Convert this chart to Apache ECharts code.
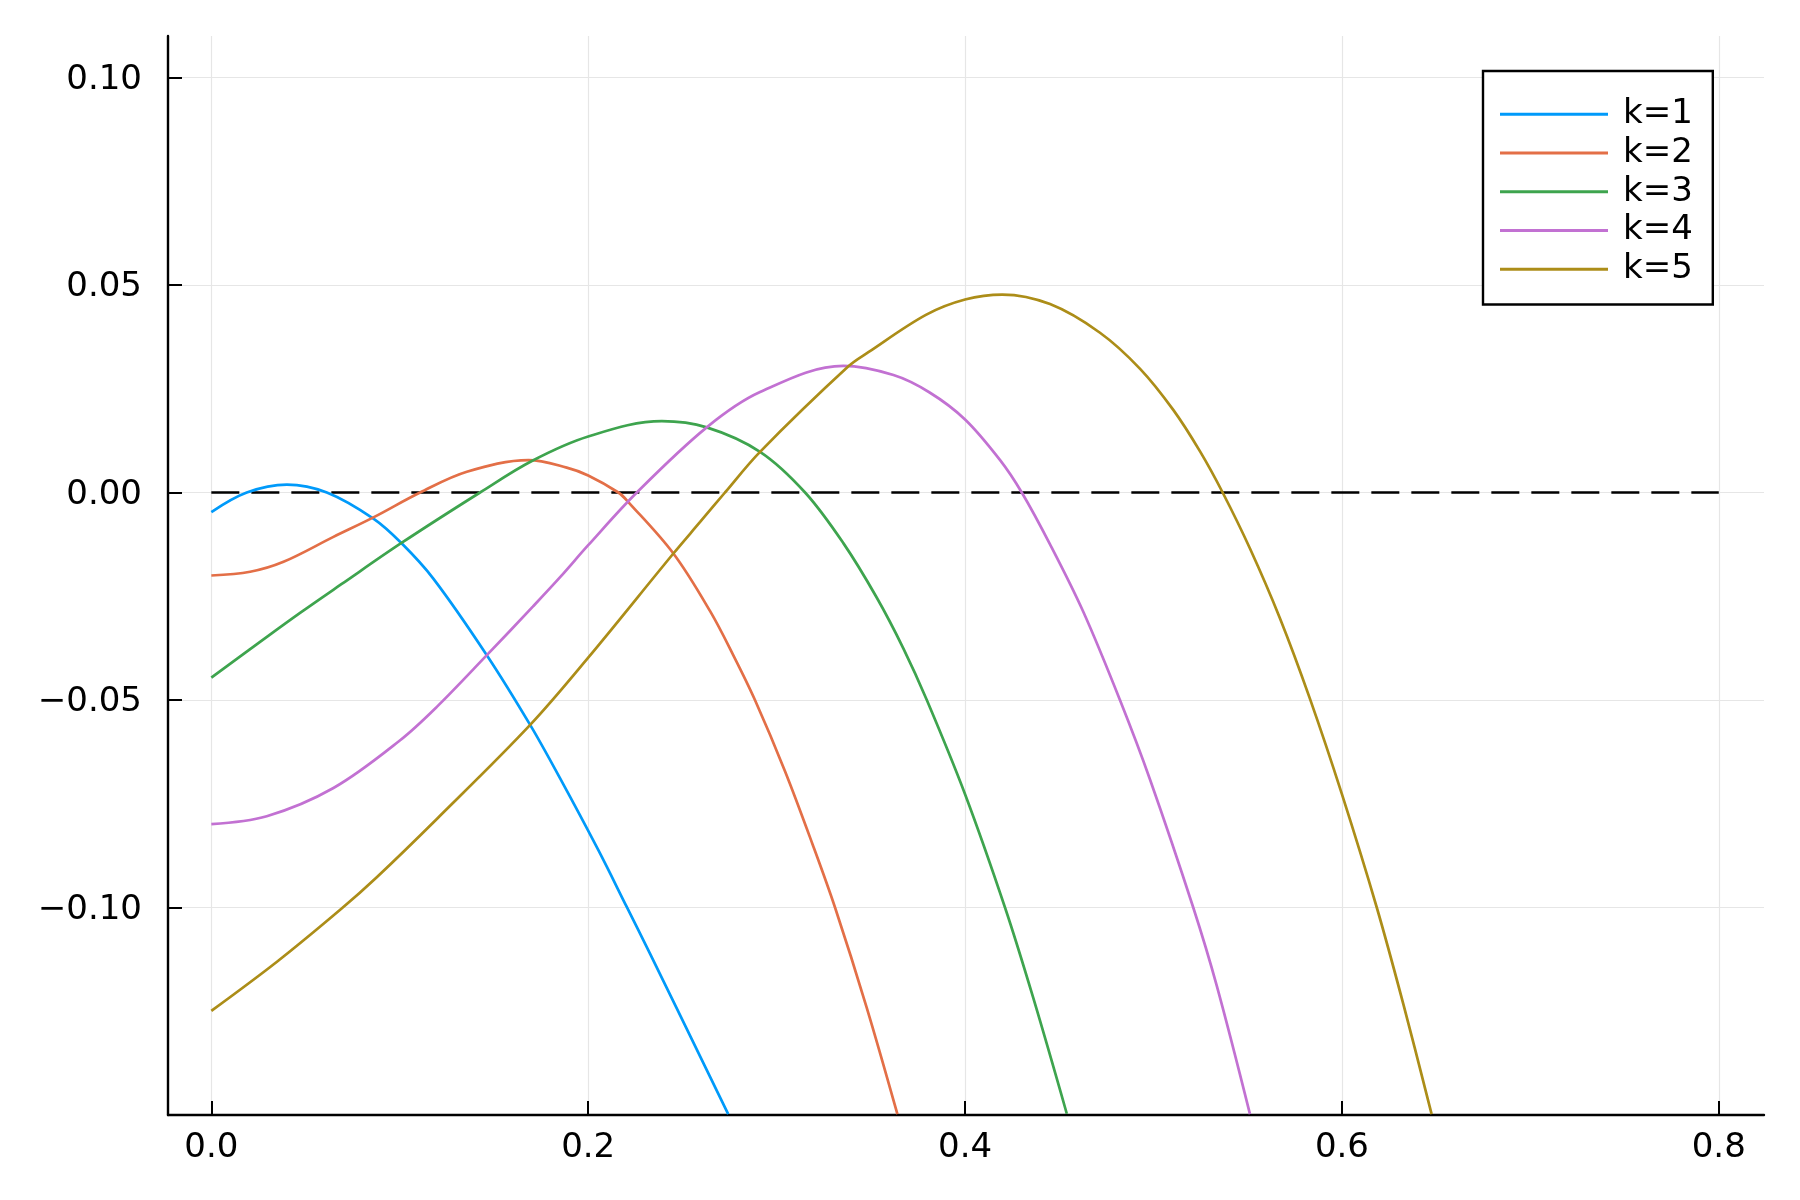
<!DOCTYPE html>
<html>
<head>
<meta charset="utf-8">
<script src="https://cdn.jsdelivr.net/npm/echarts@6/dist/echarts.min.js"></script>
<style>
html,body{margin:0;padding:0;background:#ffffff;}
#chart{width:1800px;height:1200px;}
</style>
</head>
<body>
<div id="chart"></div>
<script>
// ---- data ----
const seriesNames = ['k=1', 'k=2', 'k=3', 'k=4', 'k=5'];
const seriesColors = ['#009AFA', '#E36F47', '#3EA44E', '#C271D2', '#AC8D18'];

const k1X = [0, 0.0188, 0.0401, 0.0613, 0.086, 0.1011, 0.1179, 0.1462, 0.1692, 0.1851, 0.2054, 0.2204, 0.2328, 0.2743];
const k1Y = [-0.0047, 0, 0.0019, 0, -0.0063, -0.0123, -0.0208, -0.0392, -0.056, -0.0689, -0.0862, -0.0998, -0.1111, -0.1498];

const k2X = [0, 0.0206, 0.0383, 0.0648, 0.086, 0.1108, 0.1356, 0.1683, 0.1886, 0.2, 0.216, 0.2213, 0.2452, 0.2647, 0.2771, 0.2885, 0.3045, 0.3191, 0.331, 0.3478, 0.3641];
const k2Y = [-0.02, -0.0191, -0.0167, -0.0107, -0.006, 0, 0.005, 0.0078, 0.006, 0.0041, 0, -0.0023, -0.0147, -0.0286, -0.0393, -0.05, -0.0672, -0.0848, -0.1, -0.1241, -0.1498];

const k3X = [0, 0.0264, 0.0471, 0.069, 0.1011, 0.1426, 0.1701, 0.2, 0.2391, 0.2629, 0.2912, 0.3151, 0.3354, 0.3531, 0.3673, 0.3797, 0.4, 0.4212, 0.4362, 0.454];
const k3Y = [-0.0446, -0.0358, -0.029, -0.0221, -0.0121, 0, 0.0076, 0.0135, 0.0172, 0.0157, 0.0098, 0, -0.0122, -0.0253, -0.0376, -0.05, -0.0727, -0.1, -0.1218, -0.1497];

const k4X = [0, 0.0294, 0.0648, 0.1002, 0.1198, 0.1462, 0.1706, 0.1851, 0.2, 0.2258, 0.2629, 0.2912, 0.3354, 0.362, 0.3812, 0.4, 0.4186, 0.4301, 0.4451, 0.4628, 0.4822, 0.4982, 0.5211, 0.5336, 0.5512];
const k4Y = [-0.0799, -0.078, -0.0712, -0.0597, -0.0516, -0.0392, -0.0275, -0.0204, -0.0127, 0, 0.0157, 0.0242, 0.0305, 0.0283, 0.0241, 0.0176, 0.0078, 0, -0.0125, -0.0288, -0.05, -0.0692, -0.1, -0.1189, -0.1498];

const k5X = [0, 0.035, 0.069, 0.0878, 0.1198, 0.1692, 0.2, 0.2452, 0.2594, 0.2726, 0.2912, 0.3381, 0.3487, 0.3792, 0.4, 0.4198, 0.4451, 0.4716, 0.4929, 0.5105, 0.5247, 0.5367, 0.5512, 0.5671, 0.5831, 0.6, 0.6185, 0.6326, 0.6476];
const k5Y = [-0.1249, -0.113, -0.1003, -0.0927, -0.0786, -0.056, -0.0398, -0.0147, -0.0071, 0, 0.0098, 0.0304, 0.0338, 0.0428, 0.0465, 0.0477, 0.0454, 0.0385, 0.0298, 0.0199, 0.0099, 0, -0.0135, -0.0303, -0.0498, -0.0727, -0.1, -0.1233, -0.1498];

const zeroLineX = [0, 0.8];
const zeroLineY = [0, 0];

const xTickValues = [0, 0.2, 0.4, 0.6, 0.8];
const xTickLabels = ['0.0', '0.2', '0.4', '0.6', '0.8'];
const yTickValues = [-0.1, -0.05, 0, 0.05, 0.1];
const yTickLabels = ['\u22120.10', '\u22120.05', '0.00', '0.05', '0.10'];

// ---- build chart ----
const FONT = 'DejaVu Sans';
const pair = (xs, ys) => xs.map((x, i) => [x, ys[i]]);
const curveXs = [k1X, k2X, k3X, k4X, k5X];
const curveYs = [k1Y, k2Y, k3Y, k4Y, k5Y];

const labelFor = (vals, labels) => (v) => {
  for (let i = 0; i < vals.length; i++) if (Math.abs(vals[i] - v) < 1e-9) return labels[i];
  return '';
};

const series = [{
  name: 'zero',
  type: 'line',
  data: pair(zeroLineX, zeroLineY),
  showSymbol: false,
  symbol: 'none',
  silent: true,
  lineStyle: { color: '#000000', width: 2.5, type: [28, 12] },
  z: 1
}];
seriesNames.forEach((n, i) => {
  series.push({
    name: n,
    type: 'line',
    data: pair(curveXs[i], curveYs[i]),
    symbol: 'none',
    showSymbol: false,
    smooth: 0.35,
    clip: true,
    lineStyle: { color: seriesColors[i], width: 2.7 },
    itemStyle: { color: seriesColors[i] },
    z: 2 + i
  });
});

const axisCommon = {
  axisLine: { show: true, onZero: false, lineStyle: { color: '#000', width: 2.4 } },
  axisTick: { show: true, inside: true, length: 14, lineStyle: { color: '#000', width: 2 } },
  splitLine: { show: true, lineStyle: { color: '#e6e6e6', width: 1.2 } }
};

const chart = echarts.init(document.getElementById('chart'), null, { renderer: 'canvas' });
chart.setOption({
  animation: false,
  backgroundColor: '#ffffff',
  grid: { left: 168, right: 36, top: 36, bottom: 85, containLabel: false },
  legend: {
    data: seriesNames,
    orient: 'vertical',
    left: 1483,
    top: 71,
    icon: 'rect',
    itemWidth: 108,
    itemHeight: 3,
    itemGap: 0,
    padding: [24, 20, 16, 17],
    backgroundColor: '#ffffff',
    borderColor: '#000000',
    borderWidth: 2.4,
    borderRadius: 0,
    textStyle: { fontFamily: FONT, fontSize: 34, color: '#000', lineHeight: 38.7, padding: [0, 0, 0, 10] }
  },
  xAxis: Object.assign({
    type: 'value',
    min: -0.023,
    max: 0.824,
    axisLabel: {
      show: true,
      customValues: xTickValues,
      formatter: labelFor(xTickValues, xTickLabels),
      fontFamily: FONT, fontSize: 34, color: '#000', margin: 16
    }
  }, axisCommon, {
    axisTick: Object.assign({}, axisCommon.axisTick, { customValues: xTickValues }),
    splitLine: Object.assign({}, axisCommon.splitLine, { customValues: xTickValues })
  }),
  yAxis: Object.assign({
    type: 'value',
    min: -0.15,
    max: 0.11,
    axisLabel: {
      show: true,
      customValues: yTickValues,
      formatter: labelFor(yTickValues, yTickLabels),
      fontFamily: FONT, fontSize: 34, color: '#000', margin: 26,
      verticalAlign: 'top',
      lineHeight: 5
    }
  }, axisCommon, {
    axisTick: Object.assign({}, axisCommon.axisTick, { customValues: yTickValues }),
    splitLine: Object.assign({}, axisCommon.splitLine, { customValues: yTickValues })
  }),
  series: series
});
</script>
</body>
</html>
